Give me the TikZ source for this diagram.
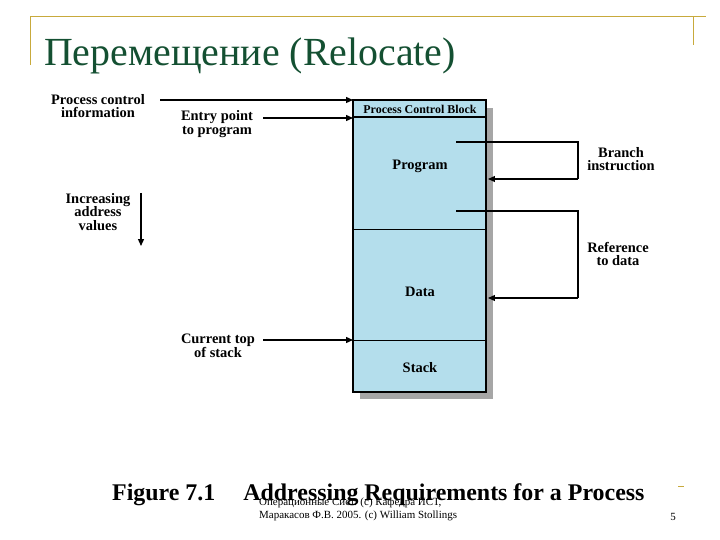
\documentclass[tikz,border=0pt]{standalone}
\usepackage{fontspec}
\setmainfont{Liberation Serif}
\usetikzlibrary{arrows.meta}
\definecolor{gold}{RGB}{200,170,60}
\definecolor{ttl}{RGB}{20,80,50}
\definecolor{fillb}{RGB}{180,222,236}
\begin{document}
\begin{tikzpicture}[x=1bp,y=-1bp,
  lab/.style={font=\bfseries\fontsize{14.5}{13.5}\selectfont,align=center,inner sep=1},
  arr/.style={line width=1.3pt,-{Triangle[length=7pt,width=6pt]}},
  ln/.style={line width=1.3pt}]
\useasboundingbox (0,0) rectangle (720,540);
\fill[white] (0,0) rectangle (720,540);
% frame decoration
\draw[gold,line width=1pt] (30,17) -- (706,17);
\draw[gold,line width=1pt] (30,17) -- (30,65);
\draw[gold,line width=1pt] (693,17) -- (693,45);
\draw[gold,line width=1pt] (678,486) -- (684,486);
\node[anchor=base west,text=ttl,font=\fontsize{40}{42}\selectfont,inner sep=0] (title) at (44,66) {Перемещение (Relocate)};
% box
\fill[gray!70] (360,108) rectangle (493,399);
\draw[line width=2pt,fill=fillb] (353,100) rectangle (486,392);
\coordinate (b1) at (353,117); \coordinate (b1r) at (486,117);
\coordinate (b2) at (353,229); \coordinate (b2r) at (486,229);
\coordinate (b3) at (353,340); \coordinate (b3r) at (486,340);
\draw[ln] (b1) -- (b1r); \draw[line width=1pt] (b2) -- (b2r); \draw[line width=1pt] (b3) -- (b3r);
\node[lab,font=\bfseries\fontsize{12}{12}\selectfont] (pcb) at (420,109) {Process Control Block};
\node[lab] (prog) at (420,166) {Program};
\node[lab] (data) at (420,292) {Data};
\node[lab] (stack) at (420,368) {Stack};
% left labels
\node[lab] (pci) at (98,106) {Process control\\information};
\node[lab] (ep) at (217,124) {Entry point\\to program};
\node[lab] (cts) at (218,346) {Current top\\of stack};
\node[lab] (iav) at (98,212) {Increasing\\address\\values};
\coordinate (p1) at (353,100); \coordinate (p2) at (353,118);
\draw[arr] (160,100) -- (p1);
\draw[arr] (263,118) -- (p2);
\draw[arr] (263,340) -- (b3);
\draw[arr] (141,193) -- (141,246);
% right
\node[lab] (br) at (621,159) {Branch\\instruction};
\node[lab] (ref) at (618,254) {Reference\\to data};
\coordinate (s1) at (456,142); \coordinate (t1) at (488,179);
\coordinate (s2) at (456,211); \coordinate (t2) at (488,298);
\draw[ln] (s1) -- (578,142) -- (578,179);
\draw[arr] (578,179) -- (t1);
\draw[ln] (s2) -- (578,211) -- (578,298);
\draw[arr] (578,298) -- (t2);
% caption
\node[anchor=base west,font=\bfseries\fontsize{24}{26}\selectfont,inner sep=0] (cap) at (112,500) {Figure 7.1\hspace{28bp}Addressing Requirements for a Process};
\node[font=\fontsize{11}{13}\selectfont,align=left,anchor=north west,inner sep=0] (foot) at (259,498) {Операционные Сист. (c) Кафедра ИСТ,\\Маракасов Ф.В. 2005. (c) William Stollings};
\node[font=\fontsize{11}{13}\selectfont,inner sep=0] (pg) at (673,517) {5};
\end{tikzpicture}
\end{document}
